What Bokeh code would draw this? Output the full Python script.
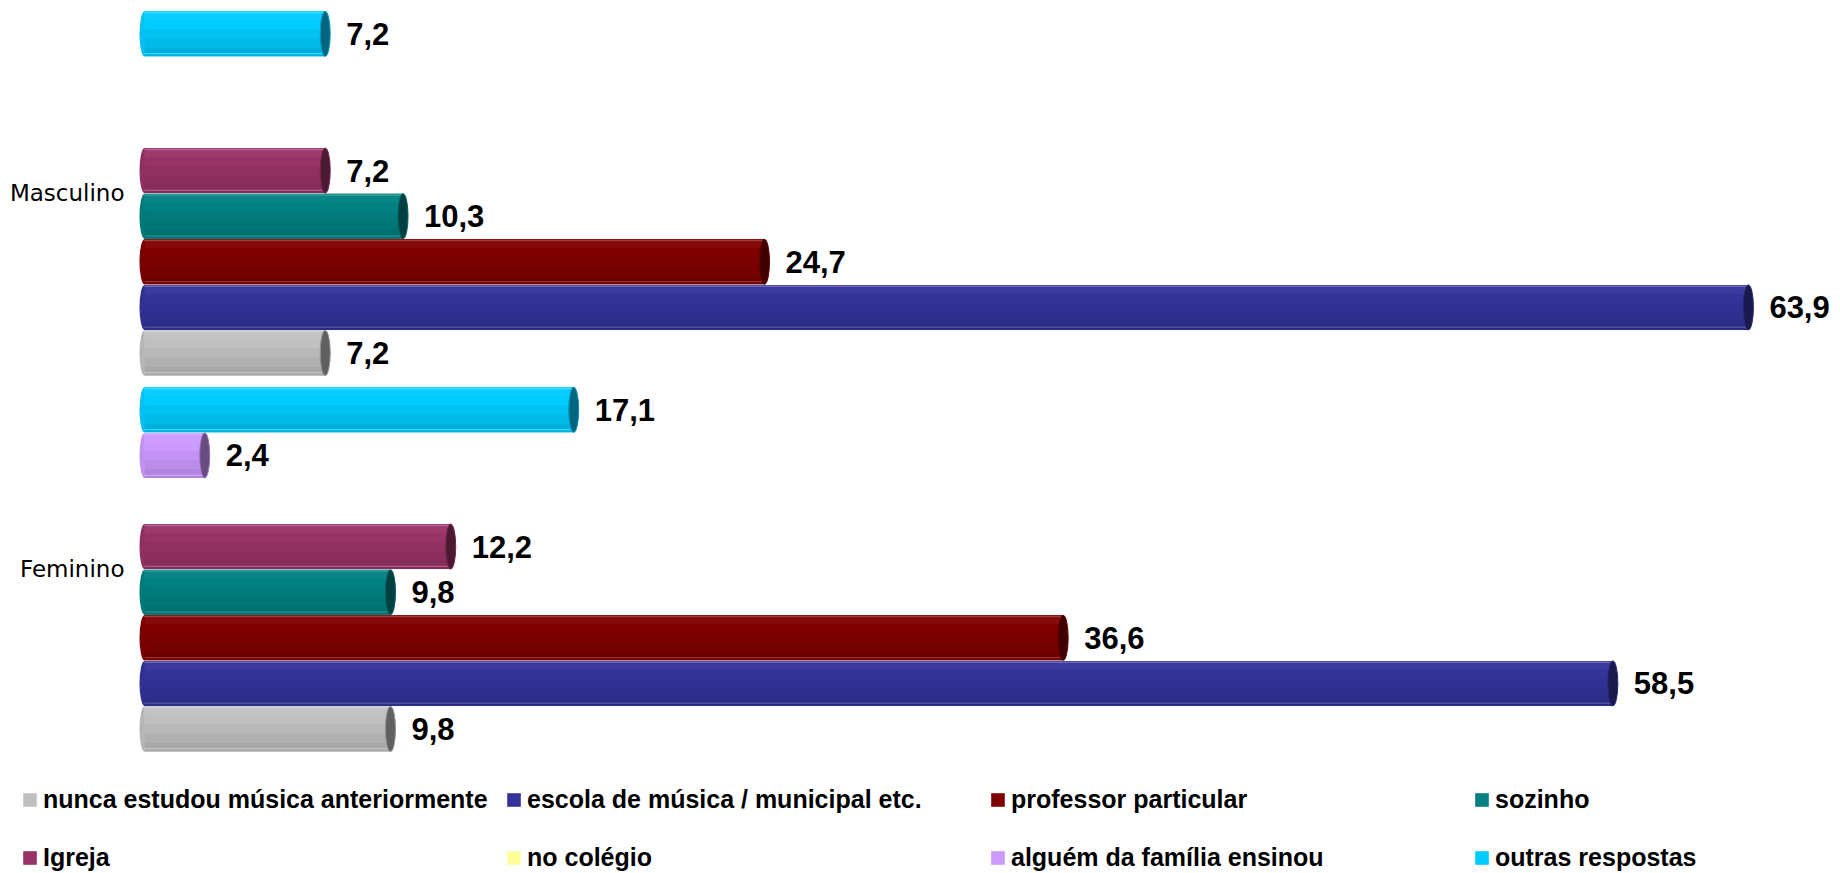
import math
from bokeh.plotting import figure
from bokeh.models import Range1d, FixedTicker, Legend, LegendItem, ColumnDataSource
from bokeh.transform import dodge
from bokeh.embed import file_html
from bokeh.resources import INLINE
from bokeh.core.properties import value

# ---------------- data ----------------
categories = ["Feminino", "Masculino"]
series = [
    "nunca estudou música anteriormente",
    "escola de música / municipal etc.",
    "professor particular",
    "sozinho",
    "Igreja",
    "no colégio",
    "alguém da família ensinou",
    "outras respostas",
]
feminino = [9.8, 58.5, 36.6, 9.8, 12.2, None, 2.4, 17.1]
masculino = [7.2, 63.9, 24.7, 10.3, 7.2, None, None, 7.2]
values_by_category = [feminino, masculino]

colors = ["#C0C0C0", "#333399", "#800000", "#008080", "#993366", "#FFFF99", "#CC99FF", "#00CCFF"]

# ---------------- layout / style ----------------
W, H = 1840, 873
PX_PER_UNIT = 25.1
ZERO_PX = 144.0            # page x of value 0
X_START = -ZERO_PX / PX_PER_UNIT
X_END = X_START + W / PX_PER_UNIT
CAT_PX = 376.0
Y_END = 1 + 192.9 / CAT_PX
Y_START = Y_END - H / CAT_PX
SLOT = 45.6 / CAT_PX
BAR_H = 45.0 / CAT_PX
N = len(series)


def shade(hexc, f):
    r, g, b = int(hexc[1:3], 16), int(hexc[3:5], 16), int(hexc[5:7], 16)
    if f >= 1:
        t = f - 1
        r, g, b = [int(c + (255 - c) * t) for c in (r, g, b)]
    else:
        r, g, b = [int(c * f) for c in (r, g, b)]
    return "#%02x%02x%02x" % (r, g, b)


p = figure(
    width=W, height=H,
    x_range=Range1d(X_START, X_END),
    y_range=Range1d(Y_START, Y_END),
    x_axis_location=None,
    output_backend="svg",
    toolbar_location=None,
    min_border_left=0, min_border_right=0, min_border_top=0, min_border_bottom=0,
)
p.outline_line_color = None
p.grid.visible = False
p.background_fill_color = "white"
p.border_fill_color = "white"

yax = p.yaxis[0]
yax.fixed_location = 0
yax.ticker = FixedTicker(ticks=list(range(len(categories))))
yax.major_label_overrides = {i: c for i, c in enumerate(categories)}
yax.major_label_text_font = "DejaVu Sans"
yax.major_label_text_font_size = "23px"
yax.major_label_text_color = "#000000"
yax.axis_line_color = None
yax.major_tick_line_color = None
yax.minor_tick_line_color = None
yax.major_tick_out = 0
yax.major_tick_in = 0
yax.major_label_standoff = 20

# bands for the cylinder shading (fraction of bar height, brightness factor)
bands = [(0.2, 1.04), (0.2, 1.0), (0.2, 0.96), (0.2, 0.92), (0.2, 0.87)]

base_renderers = []
for j, name in enumerate(series):
    ys, rights, lefts, labels = [], [], [], []
    for ci, vals in enumerate(values_by_category):
        v = vals[j]
        ys.append(ci + (j - (N - 1) / 2) * SLOT)
        if v is None:
            rights.append(math.nan)
            lefts.append(math.nan)
            labels.append("")
        else:
            rights.append(v)
            lefts.append(0)
            labels.append(f"{v:.1f}".replace(".", ","))
    src = ColumnDataSource(dict(y=ys, right=rights, left=lefts, label=labels))
    col = colors[j]

    # rounded left end
    p.ellipse(x="left", y="y", width=10, width_units="screen", height=BAR_H,
              fill_color=shade(col, 0.95), line_color=None, source=src)
    # base bar (legend glyph)
    r = p.hbar(y="y", left="left", right="right", height=BAR_H, source=src,
               fill_color=col, line_color=None)
    base_renderers.append(r)
    # shading bands
    top = BAR_H / 2
    for frac, f in bands:
        h = frac * BAR_H
        off = top - h / 2
        p.hbar(y=dodge("y", off), left="left", right="right", height=h, source=src,
               fill_color=shade(col, f), line_color=None)
        top -= h
    # thin highlight lines near the edges
    p.hbar(y=dodge("y", BAR_H / 2 - BAR_H * 0.03), left="left", right="right",
           height=BAR_H * 0.03, source=src, fill_color=shade(col, 1.25), line_color=None)
    p.hbar(y=dodge("y", -BAR_H / 2 + BAR_H * 0.06), left="left", right="right",
           height=BAR_H * 0.025, source=src, fill_color=shade(col, 1.2), line_color=None)
    # end cap
    p.ellipse(x="right", y="y", width=10, width_units="screen", height=BAR_H,
              fill_color=shade(col, 0.5), line_color=shade(col, 0.75), line_width=1,
              source=src)
    # value labels
    p.text(x="right", y="y", text="label", source=src, x_offset=21,
           text_baseline="middle", text_align="left",
           text_font=value("Liberation Sans"), text_font_style="bold",
           text_font_size="31px", text_color="#000000")


# ---------------- legend (two rows of four) ----------------
def make_legend(idx, loc):
    leg = Legend(
        items=[LegendItem(label=series[i], renderers=[base_renderers[i]], index=0) for i in idx],
        orientation="horizontal",
        location=loc,
        label_width=450,
        glyph_width=17, glyph_height=17,
        label_standoff=5,
        spacing=12,
        padding=0, margin=0,
        border_line_color=None,
        background_fill_alpha=0,
        label_text_font="Liberation Sans",
        label_text_font_style="bold",
        label_text_font_size="25px",
        label_text_color="#000000",
    )
    p.add_layout(leg, "center")


make_legend([0, 1, 2, 3], (21, 59))
make_legend([4, 5, 6, 7], (21, 1))

open("out.html", "w").write(file_html(p, INLINE))
